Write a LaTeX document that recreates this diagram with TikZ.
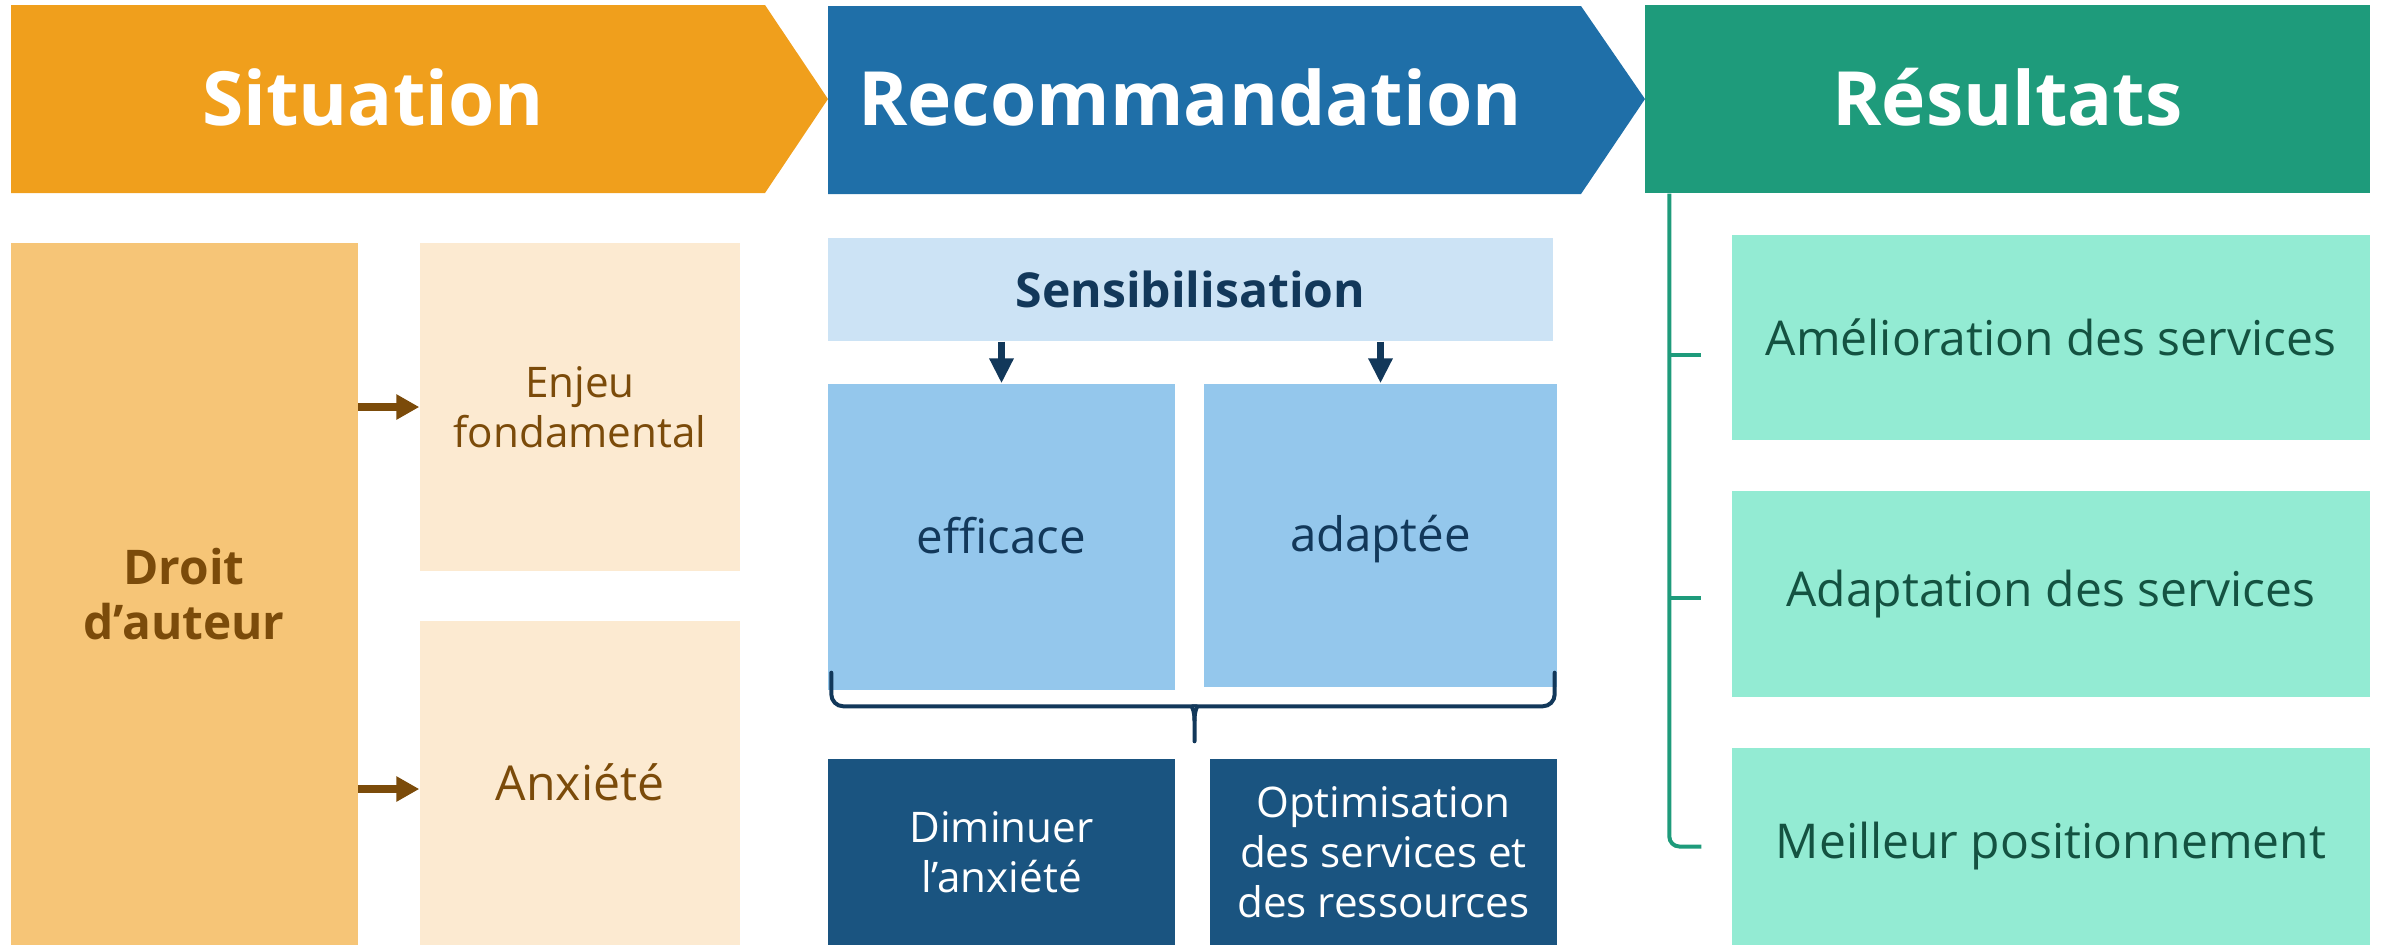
\documentclass[tikz,border=0pt]{standalone}
\usepackage{fontspec}
\setmainfont{Open Sans}
\usetikzlibrary{arrows.meta,calc,positioning}
\definecolor{sitorange}{HTML}{F09F1C}
\definecolor{recblue}{HTML}{1F6FA8}
\definecolor{resgreen}{HTML}{1E9B7B}
\definecolor{droitfill}{HTML}{F6C577}
\definecolor{enjeufill}{HTML}{FCEAD1}
\definecolor{browntext}{HTML}{7B4B0A}
\definecolor{sensfill}{HTML}{CCE3F5}
\definecolor{effill}{HTML}{94C7EC}
\definecolor{navytext}{HTML}{12385A}
\definecolor{darkbox}{HTML}{1A5480}
\definecolor{mintfill}{HTML}{93EBD3}
\definecolor{greentext}{HTML}{145241}
\tikzset{
  box/.style={rectangle, inner sep=0pt, align=center},
  title/.style={box, text=white, font=\fontsize{21.3}{26}\selectfont\bfseries,
                text height=15.2pt, text depth=0pt},
  sitbox/.style={box, fill=enjeufill, text=browntext, font=\fontsize{12}{14.2}\selectfont},
  recbox/.style={box, fill=effill, text=navytext, font=\fontsize{13.5}{16}\selectfont,
                 text height=12.1pt, text depth=3pt},
  actbox/.style={box, fill=darkbox, text=white, font=\fontsize{12}{14.2}\selectfont},
  resbox/.style={box, fill=mintfill, text=greentext, font=\fontsize{13.65}{17}\selectfont,
                 minimum width=63.8mm},
  brownarrow/.style={draw=browntext, line width=0.8mm, -{Triangle[length=2.3mm,width=2.4mm]}},
  navyarrow/.style={draw=navytext, line width=0.75mm, -{Triangle[length=2.5mm,width=2.3mm]}},
  bracestyle/.style={draw=navytext, line width=0.4mm, line cap=round},
  resline/.style={draw=resgreen, line width=0.4mm}
}
\begin{document}
\begin{tikzpicture}[x=0.1mm,y=-0.1mm]
\useasboundingbox (0,0) rectangle (2381,945);

% Header chevrons.
\fill[sitorange] (11,5) -- (765,5) -- (828,99) -- (765,193) -- (11,193) -- cycle;
\fill[recblue] (828,6) -- (1581,6) -- (1645,99) -- (1581,194) -- (828,194) -- cycle;
\node[title, fill=resgreen, minimum width=72.5mm, minimum height=18.8mm] (resultats) at (2007.5,99) {Résultats};
\node[title] (situation) at (373,99) {Situation};
\node[title] (recommandation) at (1190,99) {Recommandation};

% Situation column.
\node[sitbox, fill=droitfill, minimum width=34.7mm, minimum height=70.2mm,
      font=\fontsize{13.6}{15.6}\selectfont\bfseries] (droit) at (184,594) {Droit\\d’auteur};
\node[sitbox, minimum width=32mm, minimum height=32.8mm] (enjeu) at (580,407) {Enjeu\\fondamental};
\node[sitbox, minimum width=32mm, minimum height=32.4mm, font=\fontsize{13.7}{16}\selectfont,
      text height=10pt, text depth=0pt] (anx) at (580,783) {Anxiété};
\draw[brownarrow] (droit.east |- enjeu.west) -- (enjeu.west);
\draw[brownarrow] ($(droit.east |- anx.west)+(0,6)$) -- ($(anx.west)+(0,6)$);

% Recommandation column.
\node[recbox, fill=sensfill, minimum width=72.5mm, minimum height=10.3mm,
      font=\fontsize{13.7}{16}\selectfont\bfseries, text height=10pt, text depth=0pt] (sens) at (1190.5,289.5) {Sensibilisation};
\node[recbox, minimum width=34.7mm, minimum height=30.6mm] (eff) at (1001.5,537) {efficace};
\node[recbox, minimum width=35.3mm, minimum height=30.3mm] (adp) at (1380.5,535.5) {adaptée};
\draw[navyarrow] (sens.south -| eff.north) -- (eff.north);
\draw[navyarrow] (sens.south -| adp.north) -- (adp.north);

\node[actbox, minimum width=34.7mm, minimum height=18.6mm] (dim) at (1001.5,852) {Diminuer\\l’anxiété};
\node[actbox, minimum width=34.7mm, minimum height=18.6mm] (opt) at (1383.5,852)
  {Optimisation\\des services et\\des ressources};

% Brace under the two boxes.
\coordinate (bl) at ([xshift=0.4mm,yshift=1.8mm]eff.south west);
\coordinate (br) at ([xshift=-0.3mm,yshift=1.5mm]adp.south east);
\coordinate (btip) at ($(dim.north east)!.5!(opt.north west)+(2,-17)$);
\coordinate (bmid) at ($(btip)+(0,-35)$);
\draw[bracestyle] (bl) [rounded corners=1.2mm] |- ($(bmid)+(-14,0)$) [sharp corners]
  .. controls +(10,0) and +(0,-12) .. ($(bmid)+(0,14)$) -- (btip);
\draw[bracestyle] (br) [rounded corners=1.2mm] |- ($(bmid)+(14,0)$) [sharp corners]
  .. controls +(-10,0) and +(0,-12) .. ($(bmid)+(0,14)$);

% Results column.
\node[resbox, minimum height=20.5mm] (r1) at (2051,337.5) {Amélioration des services};
\node[resbox, minimum height=20.6mm] (r2) at (2051,594) {Adaptation des services};
\node[resbox, minimum height=19.7mm] (r3) at (2051,846.5) {Meilleur positionnement};

\coordinate (gtop) at ([xshift=2.5mm]resultats.south west);
\draw[resline, rounded corners=1mm, shorten >=3mm] (gtop) |- (r3.west);
\draw[resline] ($(gtop |- r1.west)+(0,17)$) -- ++(32,0);
\draw[resline] ($(gtop |- r2.west)+(0,4)$) -- ++(32,0);

\end{tikzpicture}
\end{document}
